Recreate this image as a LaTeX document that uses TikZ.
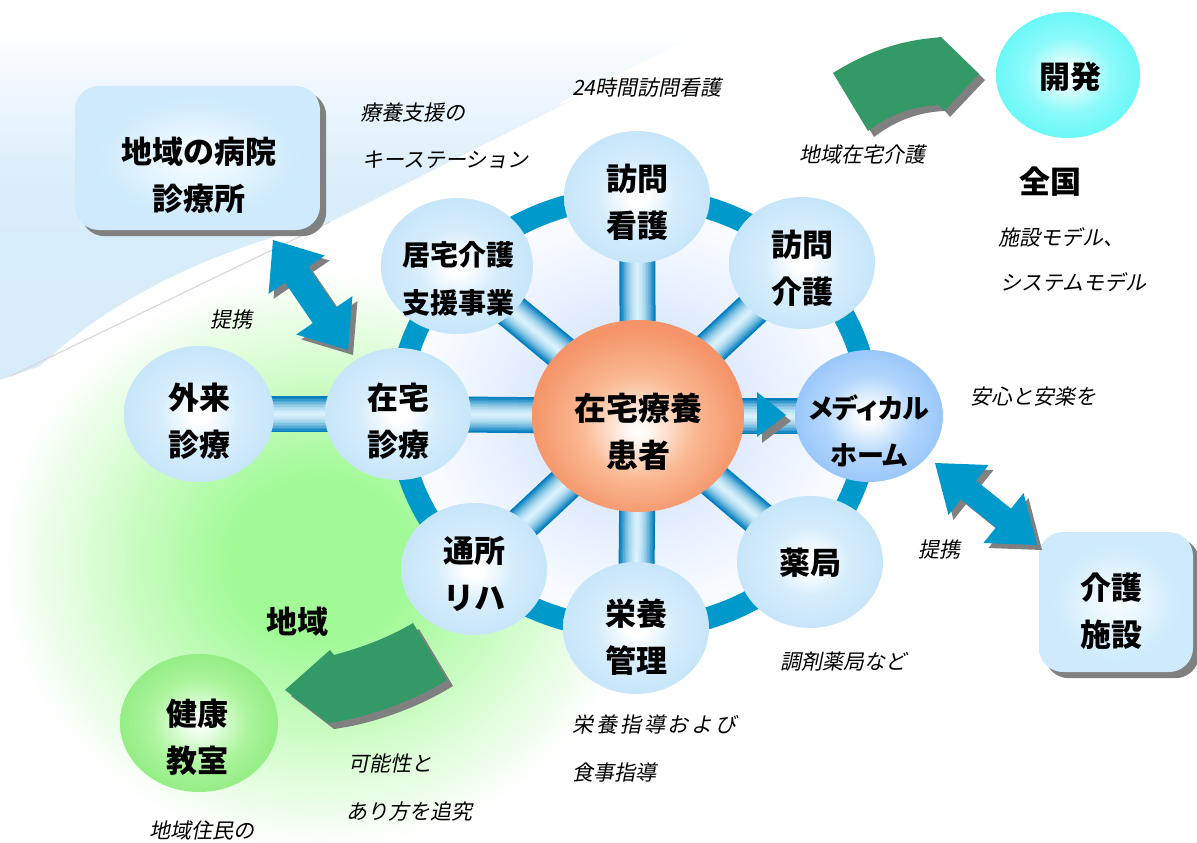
\documentclass[tikz,border=0pt]{standalone}
\usepackage{fontspec}
\newfontfamily\jp{Noto Sans CJK JP}
\newfontfamily\jpi{Noto Sans CJK JP}[FakeSlant=0.2]
\usetikzlibrary{calc,shapes.geometric}

\definecolor{ringblue}{RGB}{0,153,204}
\definecolor{arrblue}{RGB}{0,153,204}
\definecolor{arrgreen}{RGB}{51,153,102}
\definecolor{shgray}{RGB}{128,128,128}
\definecolor{tubeedge}{RGB}{0,125,190}
\definecolor{tubemid}{RGB}{215,240,252}

% radial shadings: the path edge sits at 25bp
\pgfdeclareradialshading{ballblue}{\pgfpoint{0bp}{0bp}}{rgb(0bp)=(1,1,1); rgb(3bp)=(1,1,1); rgb(13bp)=(0.84,0.93,0.99); rgb(25bp)=(0.78,0.90,0.98); rgb(50bp)=(0.78,0.90,0.98)}
\pgfdeclareradialshading{ballmh}{\pgfpoint{0bp}{0bp}}{rgb(0bp)=(1,1,1); rgb(2.5bp)=(1,1,1); rgb(15bp)=(0.70,0.84,0.99); rgb(25bp)=(0.60,0.78,0.98); rgb(50bp)=(0.60,0.78,0.98)}
\pgfdeclareradialshading{ballcyan}{\pgfpoint{0bp}{0bp}}{rgb(0bp)=(1,1,1); rgb(3bp)=(0.95,1,1); rgb(15bp)=(0.55,0.98,0.98); rgb(25bp)=(0.42,0.97,0.97); rgb(50bp)=(0.42,0.97,0.97)}
\pgfdeclareradialshading{ballgreen}{\pgfpoint{0bp}{0bp}}{rgb(0bp)=(1,1,1); rgb(3bp)=(0.95,1,0.95); rgb(15bp)=(0.68,0.96,0.62); rgb(25bp)=(0.58,0.93,0.52); rgb(50bp)=(0.58,0.93,0.52)}
\pgfdeclareradialshading{ballorange}{\pgfpoint{0bp}{-4bp}}{rgb(0bp)=(1,1,1); rgb(2.5bp)=(1,0.97,0.95); rgb(13bp)=(0.98,0.73,0.58); rgb(25bp)=(0.96,0.58,0.41); rgb(50bp)=(0.96,0.58,0.41)}
\pgfdeclareradialshading{boxblue}{\pgfpoint{0bp}{0bp}}{rgb(0bp)=(0.98,0.99,1); rgb(7bp)=(0.92,0.97,1); rgb(20bp)=(0.81,0.92,0.99); rgb(50bp)=(0.80,0.91,0.99)}
\pgfdeclareradialshading{ringglow}{\pgfpoint{0bp}{0bp}}{rgb(0bp)=(0.80,0.87,0.99); rgb(10bp)=(0.86,0.91,0.99); rgb(20bp)=(0.95,0.97,1); rgb(25bp)=(0.99,0.99,1); rgb(50bp)=(0.99,0.99,1)}
\pgfdeclareradialshading{greenglow}{\pgfpoint{0bp}{0bp}}{rgb(0bp)=(0.63,0.98,0.59); rgb(7bp)=(0.63,0.98,0.59); rgb(15bp)=(0.80,0.99,0.77); rgb(25bp)=(1,1,1); rgb(50bp)=(1,1,1)}
% vertical shading: bbox bottom at 25bp, top at 75bp
\pgfdeclareverticalshading{lbv}{100bp}{rgb(0bp)=(0.84,0.92,0.98); rgb(52bp)=(0.85,0.93,0.98); rgb(64bp)=(0.92,0.96,0.99); rgb(75bp)=(1,1,1); rgb(100bp)=(1,1,1)}

\pgfdeclarelayer{bg}
\pgfdeclarelayer{tubes}
\pgfsetlayers{bg,tubes,main}

\tikzset{
  bnode/.style={ellipse, inner sep=0pt, minimum width=146pt, minimum height=132pt, shade, shading=#1},
  bnode/.default=ballblue,
  boxst/.style={rectangle, rounded corners=24pt, inner sep=0pt, shade, shading=boxblue},
  btxt/.style={font=\jp\bfseries\fontsize{31}{47}\selectfont, align=center, inner sep=0pt},
  itxt/.style={font=\jpi\fontsize{21}{25}\selectfont, anchor=west, inner sep=0pt},
}

\newcommand\tube[2]{\foreach \w/\p in {36/0,33/12,30/25,27/38,24/50,21/60,18/70,15/78,12/85,9/91,6/96,3/100}{\draw[line width=\w pt, color=tubemid!\p!tubeedge] (#1.center) -- (#2.center);}}
\newcommand\dblarrowpath[5]{(#1) -- ($(#1)!#3!(#2)!#4!90:(#2)$) -- ($(#1)!#3!(#2)!#5!90:(#2)$) -- ($(#2)!#3!(#1)!#5!-90:(#1)$) -- ($(#2)!#3!(#1)!#4!-90:(#1)$) -- (#2) -- ($(#2)!#3!(#1)!#4!90:(#1)$) -- ($(#2)!#3!(#1)!#5!90:(#1)$) -- ($(#1)!#3!(#2)!#5!-90:(#2)$) -- ($(#1)!#3!(#2)!#4!-90:(#2)$) -- cycle}

\begin{document}
\begin{tikzpicture}[x=1pt,y=-1pt]
\useasboundingbox (0,0) rectangle (1197,843);

\begin{pgfonlayer}{bg}
\fill[white] (0,0) rectangle (1197,843);
\shade[shading=greenglow] (320,560) ellipse (320 and 290);
\begin{scope}
  \clip (0,30) -- (712,30) -- (330,222) .. controls (230,245) and (120,290) .. (40,366) -- (0,380) -- cycle;
  \shade[shading=lbv] (0,30) rectangle (712,380);
\end{scope}
\draw[gray!30, line width=1.2pt] (11,376) -- (330,222);
\draw[white, line width=2.5pt] (560,104) -- (705,34);
\fill[white] (634,413) ellipse (228 and 209);
\shade[shading=ringglow] (634,413) ellipse (228 and 209);
\draw[ringblue, line width=22pt] (634,413) ellipse (235 and 216);
\end{pgfonlayer}

% nodes
\node[bnode=ballorange, minimum width=212pt, minimum height=192pt] (c) at (638,416) {};
\node[bnode] (nv1) at (637,197) {};
\node[bnode] (nv2) at (802,263) {};
\node[bnode=ballmh, minimum width=148pt] (mh) at (869,416) {};
\node[bnode] (yk) at (810,562) {};
\node[bnode] (ey) at (636,628) {};
\node[bnode] (ts) at (474,569) {};
\node[bnode] (zt) at (398,414) {};
\node[bnode, minimum width=152pt, minimum height=136pt] (kt) at (457,266) {};
\node[bnode, minimum width=150pt, minimum height=136pt] (gr) at (199,414) {};
\node[bnode=ballcyan, minimum width=144pt, minimum height=126pt] (kh) at (1068,75) {};
\node[bnode=ballgreen, minimum width=158pt, minimum height=138pt] (kk) at (199,723) {};

\node[boxst, minimum width=245pt, minimum height=144pt] (byoin) at (197.5,158) {};
\node[boxst, minimum width=154pt, minimum height=140pt] (kaigo) at (1116,602) {};

\begin{pgfonlayer}{tubes}
\tube{c}{nv1}\tube{c}{nv2}\tube{c}{mh}\tube{c}{yk}
\tube{c}{ey}\tube{c}{ts}\tube{c}{zt}\tube{c}{kt}
\tube{gr}{zt}
\fill[shgray, rounded corners=24pt] ($(byoin.south west)+(6,6)$) rectangle ($(byoin.north east)+(6,6)$);
\fill[shgray, rounded corners=24pt] ($(kaigo.south west)+(6,6)$) rectangle ($(kaigo.north east)+(6,6)$);
\end{pgfonlayer}

% node texts
\node[btxt, font=\jp\bfseries\fontsize{32}{47}\selectfont] (ct) at (638,432) {在宅療養\\患者};
\node[btxt] (nv1t) at (637,202) {訪問\\看護};
\node[btxt] (nv2t) at (802,268) {訪問\\介護};
\node[btxt, font=\jp\bfseries\fontsize{27}{47}\selectfont\addfontfeature{RawFeature=+palt}] (mht) at (869,431) {メディカル\\ホーム};
\node[btxt] (ykt) at (810,563) {薬局};
\node[btxt] (eyt) at (636,637) {栄養\\管理};
\node[btxt] (tst) at (474,574) {通所\\リハ};
\node[btxt] (ztt) at (398,421) {在宅\\診療};
\node[btxt, font=\jp\bfseries\fontsize{28}{48}\selectfont] (ktt) at (458,279) {居宅介護\\支援事業};
\node[btxt] (grt) at (199,421) {外来\\診療};
\node[btxt] (kht) at (1070,77) {開発};
\node[btxt] (kkt) at (197,737) {健康\\教室};
\node[btxt] (byoint) at (199,175) {地域の病院\\診療所};
\node[btxt] (kaigot) at (1111,611) {介護\\施設};
\node[btxt] (zenkoku) at (1050,182) {全国};
\node[btxt] (chiiki) at (297,622) {地域};

% blue double arrows
\coordinate (a1s) at (273,240);
\coordinate (a1e) at (348,350);
\coordinate (a2s) at (935,463);
\coordinate (a2e) at (1037,545);
\fill[shgray, transform canvas={shift={(5pt,-5pt)}}] \dblarrowpath{a1s}{a1e}{42pt}{34pt}{14pt};
\fill[arrblue] \dblarrowpath{a1s}{a1e}{42pt}{34pt}{14pt};
\fill[shgray, transform canvas={shift={(5pt,-5pt)}}] \dblarrowpath{a2s}{a2e}{43pt}{32pt}{12pt};
\fill[arrblue] \dblarrowpath{a2s}{a2e}{43pt}{32pt}{12pt};

% small triangle
\fill[shgray] (762,398) -- (762,443) -- (791,421) -- cycle;
\fill[arrblue] (757,392) -- (757,437) -- (786,415) -- cycle;

% green curved arrows
\begin{scope}[shift={(6,6)}]
\fill[shgray] (833,73) .. controls (865,53) and (898,41) .. (933,38) -- (941,37) -- (979,74) -- (944,111) -- (939,105) .. controls (912,106) and (889,115) .. (868,131) -- cycle;
\fill[shgray] (413,623) .. controls (388,638) and (360,648) .. (334,655) -- (330,650) -- (285,690) -- (328,723) .. controls (365,718) and (410,703) .. (447,680) -- cycle;
\end{scope}
\fill[arrgreen] (833,73) .. controls (865,53) and (898,41) .. (933,38) -- (941,37) -- (979,74) -- (944,111) -- (939,105) .. controls (912,106) and (889,115) .. (868,131) -- cycle;
\fill[arrgreen] (413,623) .. controls (388,638) and (360,648) .. (334,655) -- (330,650) -- (285,690) -- (328,723) .. controls (365,718) and (410,703) .. (447,680) -- cycle;

% italic labels
\node[itxt] (l1) at (572,88) {24時間訪問看護};
\node[itxt] (l2) at (360,113) {療養支援の};
\node[itxt] (l3) at (362,160) {キーステーション};
\node[itxt] (l4) at (799,155) {地域在宅介護};
\node[itxt] (l5) at (998,237) {施設モデル、};
\node[itxt] (l6) at (1000,282) {システムモデル};
\node[itxt] (l7) at (970,397) {安心と安楽を};
\node[itxt] (l8) at (210,320) {提携};
\node[itxt] (l9) at (918,550) {提携};
\node[itxt] (l10) at (780,662) {調剤薬局など};
\node[itxt, font=\jpi\fontsize{21}{25}\selectfont\addfontfeature{LetterSpace=14}] (l11) at (572,725) {栄養指導および};
\node[itxt] (l12) at (572,773) {食事指導};
\node[itxt] (l13) at (348,763) {可能性と};
\node[itxt] (l14) at (346,812) {あり方を追究};
\node[itxt] (l15) at (149,830) {地域住民の};
\end{tikzpicture}
\end{document}
